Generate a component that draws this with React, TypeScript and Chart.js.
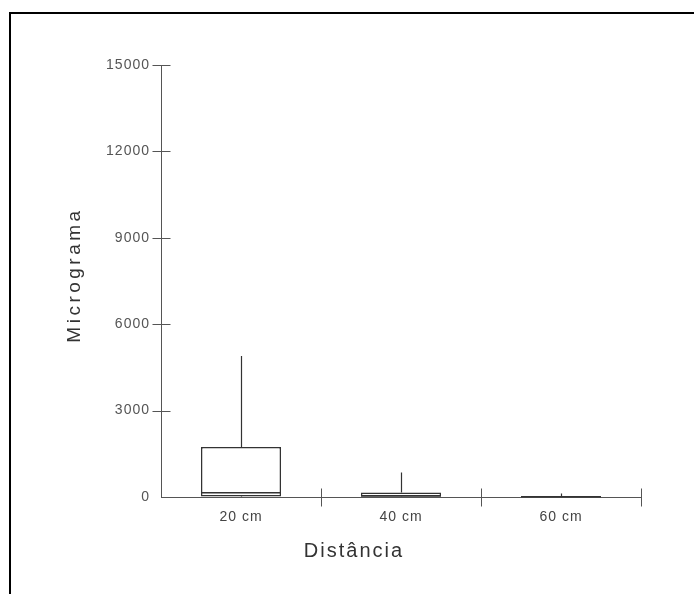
import React, { useEffect, useRef } from "react";
import { Chart, registerables } from "chart.js";

Chart.register(...registerables);

const categories = ["20 cm", "40 cm", "60 cm"];
const whiskerLow = [0, 0, 0];
const q1Values = [15, 5, 2];
const medianValues = [150, 40, 10];
const q3Values = [1740, 160, 30];
const whiskerHigh = [4900, 850, 120];
const yTickValues = [0, 3000, 6000, 9000, 12000, 15000];
const yTitle = "Micrograma";
const xTitle = "Distância";

const FONT = "'Liberation Sans', Arial, sans-serif";

const boxPlugin = {
  id: "boxExtras",
  beforeDraw(chart: any) {
    const ctx = chart.ctx;
    ctx.save();
    ctx.fillStyle = "#ffffff";
    ctx.fillRect(0, 0, chart.width, chart.height);
    ctx.fillStyle = "#000000";
    ctx.fillRect(9, 12, chart.width - 9, 2);
    ctx.fillRect(9, 12, 2, chart.height - 12);
    ctx.restore();
    (ctx as any).letterSpacing = "1px";
  },
  afterDatasetsDraw(chart: any) {
    const ctx = chart.ctx;
    const xs = chart.scales.x;
    const ys = chart.scales.y;
    const meta = chart.getDatasetMeta(0);
    ctx.save();
    ctx.strokeStyle = "#333";
    for (let i = 0; i < categories.length; i++) {
      const cx = Math.round(xs.getPixelForValue(i)) + 0.5;
      const bar = meta.data[i];
      const half = bar.width / 2;
      ctx.lineWidth = 1.2;
      ctx.beginPath();
      ctx.moveTo(cx, ys.getPixelForValue(q3Values[i]));
      ctx.lineTo(cx, ys.getPixelForValue(whiskerHigh[i]));
      ctx.moveTo(cx, ys.getPixelForValue(q1Values[i]));
      ctx.lineTo(cx, ys.getPixelForValue(whiskerLow[i]));
      ctx.stroke();
      ctx.lineWidth = 1.5;
      ctx.beginPath();
      const my = ys.getPixelForValue(medianValues[i]);
      ctx.moveTo(bar.x - half, my);
      ctx.lineTo(bar.x + half, my);
      ctx.stroke();
    }
    ctx.restore();
  },
  afterDraw(chart: any) {
    const ctx = chart.ctx;
    const xs = chart.scales.x;
    const ys = chart.scales.y;
    const area = chart.chartArea;
    ctx.save();
    ctx.strokeStyle = "#555";
    ctx.lineWidth = 1;
    ctx.beginPath();
    const ax = Math.round(area.left) + 0.5;
    yTickValues.forEach((v) => {
      if (v === yTickValues[0]) return;
      const y = Math.round(ys.getPixelForValue(v)) + 0.5;
      ctx.moveTo(ax - 9, y);
      ctx.lineTo(ax + 9, y);
    });
    const ay = Math.round(area.bottom) + 0.5;
    for (let i = 0; i < categories.length; i++) {
      const x = Math.round(xs.getPixelForValue(i + 0.5)) + 0.5;
      ctx.moveTo(x, ay - 9);
      ctx.lineTo(x, ay + 9);
    }
    ctx.stroke();

    ctx.fillStyle = "#333";
    (ctx as any).letterSpacing = "2px";
    ctx.font = `20px ${FONT}`;
    ctx.textAlign = "center";
    ctx.textBaseline = "alphabetic";
    ctx.fillText(xTitle, (area.left + area.right) / 2 - 47, 557);

    (ctx as any).letterSpacing = "3.5px";
    ctx.font = `19px ${FONT}`;
    ctx.translate(80, 275);
    ctx.rotate(-Math.PI / 2);
    ctx.fillText(yTitle, 0, 0);
    ctx.restore();
  },
};

export default function App() {
  const ref = useRef<HTMLCanvasElement | null>(null);

  useEffect(() => {
    document.body.style.margin = "0";
    const canvas = ref.current!;
    const chart = new Chart(canvas, {
      type: "bar",
      data: {
        labels: categories,
        datasets: [
          {
            label: "box",
            data: categories.map((_, i) => [q1Values[i], q3Values[i]]) as any,
            backgroundColor: "#ffffff",
            borderColor: "#333",
            borderWidth: 1.5,
            borderSkipped: false,
            categoryPercentage: 1,
            barPercentage: 0.5,
          },
        ],
      },
      options: {
        responsive: false,
        animation: false,
        devicePixelRatio: 1,
        layout: { padding: { top: 65, right: 53, left: 0, bottom: 0 } },
        plugins: {
          legend: { display: false },
          tooltip: { enabled: false },
          title: { display: false },
        },
        scales: {
          x: {
            type: "category",
            offset: true,
            grid: {
              display: true,
              drawOnChartArea: false,
              drawTicks: false,
              color: "rgba(0,0,0,0)",
            },
            border: { display: true, color: "#555", width: 1 },
            ticks: {
              color: "#444",
              font: { family: FONT, size: 14 },
              padding: 12,
              maxRotation: 0,
            },
            afterFit(scale: any) {
              scale.height = 97;
            },
          },
          y: {
            type: "linear",
            min: 0,
            max: 15000,
            grid: {
              display: true,
              drawOnChartArea: false,
              drawTicks: false,
              color: "rgba(0,0,0,0)",
            },
            border: { display: true, color: "#555", width: 1 },
            afterBuildTicks(scale: any) {
              scale.ticks = yTickValues.map((v) => ({ value: v }));
            },
            ticks: {
              color: "#555",
              font: { family: FONT, size: 14 },
              padding: 11,
              callback: (v: any) => String(v),
            },
            afterFit(scale: any) {
              scale.width = 161;
            },
          },
        },
      },
      plugins: [boxPlugin],
    });
    return () => chart.destroy();
  }, []);

  return (
    <div style={{ position: "absolute", left: 0, top: 0, width: 694, height: 594 }}>
      <canvas ref={ref} width={694} height={594} style={{ display: "block" }} />
    </div>
  );
}
